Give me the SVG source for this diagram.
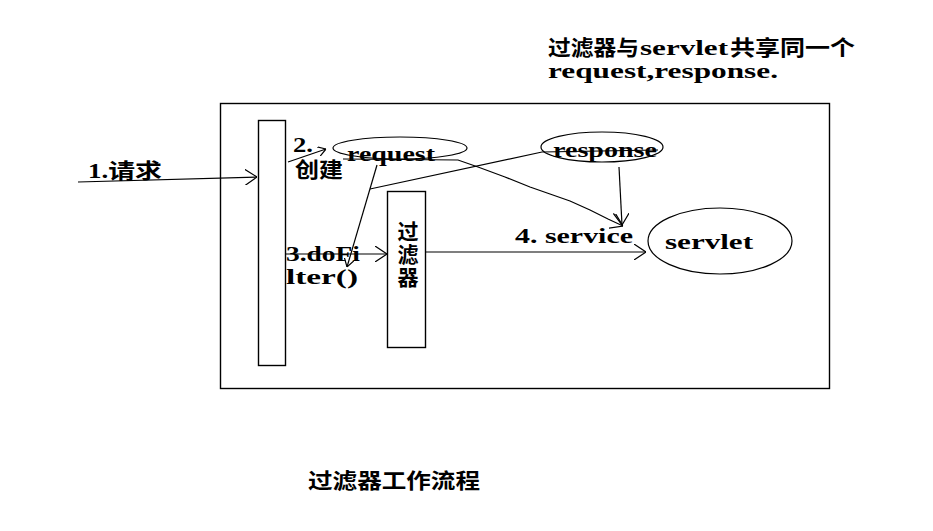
<svg xmlns="http://www.w3.org/2000/svg" width="933" height="531" viewBox="0 0 933 531">
<defs>
<marker id="arr" viewBox="0 0 12 16" refX="12" refY="8" markerWidth="12" markerHeight="16" markerUnits="userSpaceOnUse" orient="auto">
<path d="M0,0 L12,8 L0,16" fill="none" stroke="#000" stroke-width="1.2"/>
</marker>
<marker id="arrs" viewBox="0 0 8 10" refX="8" refY="5" markerWidth="8" markerHeight="10" markerUnits="userSpaceOnUse" orient="auto">
<path d="M0,0 L8,5 L0,10" fill="none" stroke="#000" stroke-width="1.2"/>
</marker>
</defs>
<style>
.box{fill:#fff;stroke:#000;stroke-width:1.4}
.ell{fill:none;stroke:#000;stroke-width:1.2}
.ln{fill:none;stroke:#000;stroke-width:1.2}
.t{font-family:"Liberation Serif","Noto Sans CJK SC",serif;font-weight:bold;font-size:21px;fill:#000}
.c{font-family:"Noto Sans CJK SC","Liberation Serif",sans-serif;font-weight:bold;font-size:21px;fill:#000}
</style>
<rect width="933" height="531" fill="#fff"/>
<g id="frame"><rect class="box" x="220.5" y="103.5" width="609" height="285"/></g>
<g id="client-bar"><rect class="box" x="258.5" y="120.5" width="27" height="245"/></g>
<g id="filter"><rect class="box" x="387.5" y="191.5" width="38" height="156"/>
<text class="c" x="408" y="221" writing-mode="tb" letter-spacing="2">过滤器</text></g>
<g id="request"><ellipse class="ell" cx="400" cy="148" rx="67" ry="11"/>
<text class="t" x="347" y="161" textLength="88" lengthAdjust="spacingAndGlyphs">request</text></g>
<g id="response"><ellipse class="ell" cx="602" cy="147" rx="61" ry="15"/>
<text class="t" x="553" y="157" textLength="104" lengthAdjust="spacingAndGlyphs">response</text></g>
<g id="servlet"><ellipse class="ell" cx="720" cy="241" rx="72" ry="33"/>
<text class="t" x="665" y="249" textLength="88" lengthAdjust="spacingAndGlyphs">servlet</text></g>
<g id="connectors">
<polyline class="ln" points="78,182 257,177" marker-end="url(#arr)"/>
<polyline class="ln" points="288,162 326,149" marker-end="url(#arrs)"/>
<polyline class="ln" points="377,165 347,267" marker-end="url(#arrs)"/>
<polyline class="ln" points="658,150 542,152 370,189"/>
<polyline class="ln" points="343,159 458,160 478,167 505,177 530,187 550,194 570,201 590,210 608,219 623,226" marker-end="url(#arr)"/>
<polyline class="ln" points="619,167 622,225" marker-end="url(#arr)"/>
<polyline class="ln" points="286,254 387,254" marker-end="url(#arr)"/>
<polyline class="ln" points="426,252 646,252" marker-end="url(#arr)"/>
</g>
<g id="labels">
<text class="t" x="88" y="178" textLength="74" lengthAdjust="spacingAndGlyphs">1.请求</text>
<text class="t" x="293" y="152" font-size="18" textLength="20" lengthAdjust="spacingAndGlyphs">2.</text>
<text class="t" x="295" y="177" textLength="48" lengthAdjust="spacingAndGlyphs">创建</text>
<text class="t" x="286" y="261" textLength="74" lengthAdjust="spacingAndGlyphs">3.doFi</text>
<text class="t" x="286" y="284" textLength="72" lengthAdjust="spacingAndGlyphs">lter()</text>
<text class="t" x="515" y="243" textLength="118" lengthAdjust="spacingAndGlyphs">4. service</text>
<text class="t" y="55"><tspan x="548" textLength="91" lengthAdjust="spacingAndGlyphs">过滤器与</tspan><tspan x="640" textLength="88" lengthAdjust="spacingAndGlyphs">servlet</tspan><tspan x="730" textLength="125" lengthAdjust="spacingAndGlyphs">共享同一个</tspan></text>
<text class="t" x="548" y="78" textLength="230" lengthAdjust="spacingAndGlyphs">request,response.</text>
<text class="c" x="308" y="488" font-size="22" textLength="172" lengthAdjust="spacingAndGlyphs">过滤器工作流程</text>
</g>
</svg>
